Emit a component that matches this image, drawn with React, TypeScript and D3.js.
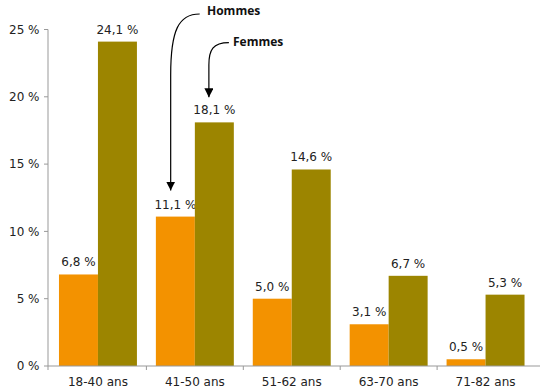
import React from "react";
import * as d3 from "d3";

const categories = ["18-40 ans", "41-50 ans", "51-62 ans", "63-70 ans", "71-82 ans"];
const hommes = [6.8, 11.1, 5.0, 3.1, 0.5];
const femmes = [24.1, 18.1, 14.6, 6.7, 5.3];
const yTicks = [0, 5, 10, 15, 20, 25];
const seriesNames = ["Hommes", "Femmes"];
const colors = ["#f39200", "#9c8500"];

const W = 540, H = 391;
const axisX = 48;
const m = { left: 49.5, right: 6, top: 29.5, bottom: 25 };
const font = "'DejaVu Sans', sans-serif";
const boldFont = "'Open Sans', 'DejaVu Sans', sans-serif";

export default function App() {
  const x = d3.scaleBand<string>().domain(categories).range([m.left, W - m.right]).paddingInner(0).paddingOuter(0);
  const y = d3.scaleLinear().domain([0, 25]).range([H - m.bottom, m.top]);
  const inner = d3.scaleBand<string>().domain(seriesNames).range([0, x.bandwidth()]).paddingInner(0).paddingOuter(0.243);
  const fmt = (v: number) => d3.format(".1f")(v).replace(".", ",") + " %";
  const series = [hommes, femmes];
  const txt = "#222";

  const hx = x(categories[1])! + inner("Hommes")! + inner.bandwidth() * 0.38;
  const hy = y(hommes[1]) - 26;
  const fx = x(categories[1])! + inner("Femmes")! + inner.bandwidth() * 0.36;
  const fy = y(femmes[1]) - 25;

  return (
    <svg width={W} height={H} style={{ position: "absolute", left: 0, top: 0 }} fontFamily={font}>
      <defs>
        <marker id="ah" viewBox="0 0 10 10" refX="10" refY="5" markerWidth="9" markerHeight="9" orient="auto" markerUnits="userSpaceOnUse">
          <path d="M0,0 L10,5 L0,10 z" fill="#000" />
        </marker>
      </defs>
      {/* bars */}
      {series.map((s, si) =>
        s.map((v, i) => {
          const bx = x(categories[i])! + inner(seriesNames[si])!;
          return (
            <g key={si + "-" + i}>
              <rect x={bx} y={y(v)} width={inner.bandwidth()} height={y(0) - y(v)} fill={colors[si]} />
              <text x={bx + inner.bandwidth() / 2} y={y(v) - 8} textAnchor="middle" fontSize={12} fill={txt}>{fmt(v)}</text>
            </g>
          );
        })
      )}
      {/* y axis */}
      <line x1={axisX} x2={axisX} y1={y(25)} y2={y(0)} stroke="#999" strokeWidth={1} />
      {yTicks.map((t) => (
        <g key={t}>
          <line x1={axisX - 4} x2={axisX} y1={y(t)} y2={y(t)} stroke="#999" />
          <text x={axisX - 8.5} y={y(t)} dy="0.35em" textAnchor="end" fontSize={12} fill={txt}>{t} %</text>
        </g>
      ))}
      {/* x axis */}
      <line x1={axisX} x2={W} y1={y(0)} y2={y(0)} stroke="#999" />
      {categories.map((c, i) => (
        <g key={c}>
          <line x1={i === 0 ? axisX : x(c)!} x2={i === 0 ? axisX : x(c)!} y1={y(0)} y2={y(0) + 4} stroke="#999" />
          <text x={x(c)! + x.bandwidth() / 2} y={y(0) + 16} dy="0.35em" textAnchor="middle" fontSize={12} fill={txt}>{c}</text>
        </g>
      ))}
      {/* annotations */}
      <path d={`M${hx + 29},14 C${hx + 8},14 ${hx},30 ${hx},75 L${hx},${hy}`} fill="none" stroke="#000" strokeWidth={1.2} markerEnd="url(#ah)" />
      <text x={207} y={11} dy="0.35em" fontFamily={boldFont} fontSize={12} fontWeight="bold" fill="#111">Hommes</text>
      <path d={`M${fx + 20},42.7 C${fx + 4},42.7 ${fx},50 ${fx},65 L${fx},${fy}`} fill="none" stroke="#000" strokeWidth={1.2} markerEnd="url(#ah)" />
      <text x={233} y={42} dy="0.35em" fontFamily={boldFont} fontSize={12} fontWeight="bold" fill="#111">Femmes</text>
    </svg>
  );
}
